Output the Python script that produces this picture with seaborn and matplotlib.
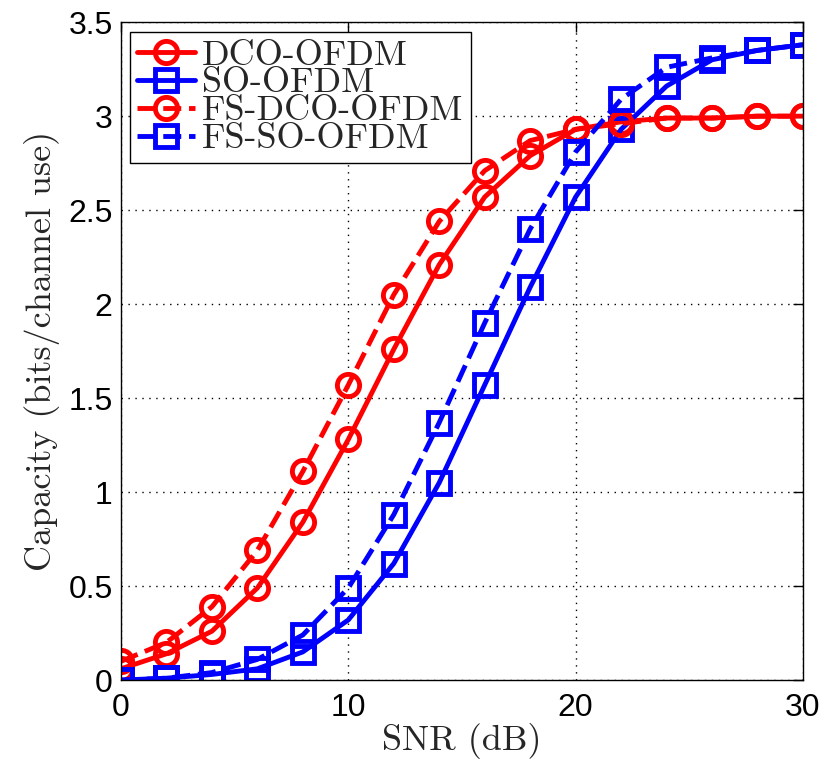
import numpy as np
import pandas as pd
import matplotlib
matplotlib.use('Agg')
import matplotlib.pyplot as plt
import seaborn as sns

snr = [0, 2, 4, 6, 8, 10, 12, 14, 16, 18, 20, 22, 24, 26, 28, 30]

dco = [0.06, 0.14, 0.26, 0.49, 0.84, 1.28, 1.76, 2.21, 2.57, 2.79, 2.93, 2.97, 2.99, 2.99, 3.0, 3.0]
so = [0.0, 0.01, 0.03, 0.06, 0.15, 0.32, 0.62, 1.05, 1.57, 2.09, 2.57, 2.93, 3.16, 3.30, 3.35, 3.38]
fs_dco = [0.10, 0.20, 0.39, 0.69, 1.11, 1.57, 2.05, 2.44, 2.71, 2.87, 2.93, 2.96, 2.99, 2.99, 3.0, 3.0]
fs_so = [0.0, 0.01, 0.04, 0.11, 0.24, 0.49, 0.88, 1.37, 1.90, 2.40, 2.81, 3.09, 3.26, 3.31, 3.35, 3.38]

labels = ['DCO-OFDM', 'SO-OFDM', 'FS-DCO-OFDM', 'FS-SO-OFDM']

sns.set_style('white')
plt.rcParams['font.family'] = ['Liberation Sans', 'DejaVu Sans']
serif = ['cmr10', 'DejaVu Serif']

fig = plt.figure(figsize=(8.32, 7.65), dpi=100)
ax = fig.add_axes([0.1454, 0.111, 0.8197, 0.860])

series = [
    (dco, labels[0], 'red', 'o', '-'),
    (so, labels[1], 'blue', 's', '-'),
    (fs_dco, labels[2], 'red', 'o', '--'),
    (fs_so, labels[3], 'blue', 's', '--'),
]
for vals, lab, col, mk, ls in series:
    sns.lineplot(x=snr, y=vals, ax=ax, color=col, marker=mk, linestyle=ls,
                 linewidth=3.5, markersize=16, markeredgewidth=3.5,
                 markerfacecolor='none', markeredgecolor=col, label=lab)

ax.set_xlim(0, 30)
ax.set_ylim(0, 3.5)
ax.set_xticks([0, 10, 20, 30])
ax.set_yticks(np.arange(0, 3.51, 0.5))
ax.set_yticklabels(['0', '0.5', '1', '1.5', '2', '2.5', '3', '3.5'])
ax.tick_params(direction='in', length=7, width=1, labelsize=23, top=True, right=True, colors='black')
ax.tick_params(axis='x', pad=9)
ax.tick_params(axis='y', pad=6)
ax.grid(True, color='black', linestyle=(0, (1, 4)), linewidth=1)
for s in ax.spines.values():
    s.set_color('black')
    s.set_linewidth(1)

ax.set_xlabel('SNR (dB)', fontsize=26, family=serif, labelpad=0)
ax.set_ylabel('Capacity (bits/channel use)', fontsize=26, family=serif, labelpad=6)

leg = ax.legend(loc='upper left', bbox_to_anchor=(0.013, 0.985), borderaxespad=0,
                fancybox=False, edgecolor='black', framealpha=1,
                prop={'family': serif, 'size': 26}, handlelength=1.6,
                labelspacing=-0.12, handletextpad=0.2, borderpad=0.2)
leg.get_frame().set_linewidth(1)

fig.savefig('out.png', dpi=100)
